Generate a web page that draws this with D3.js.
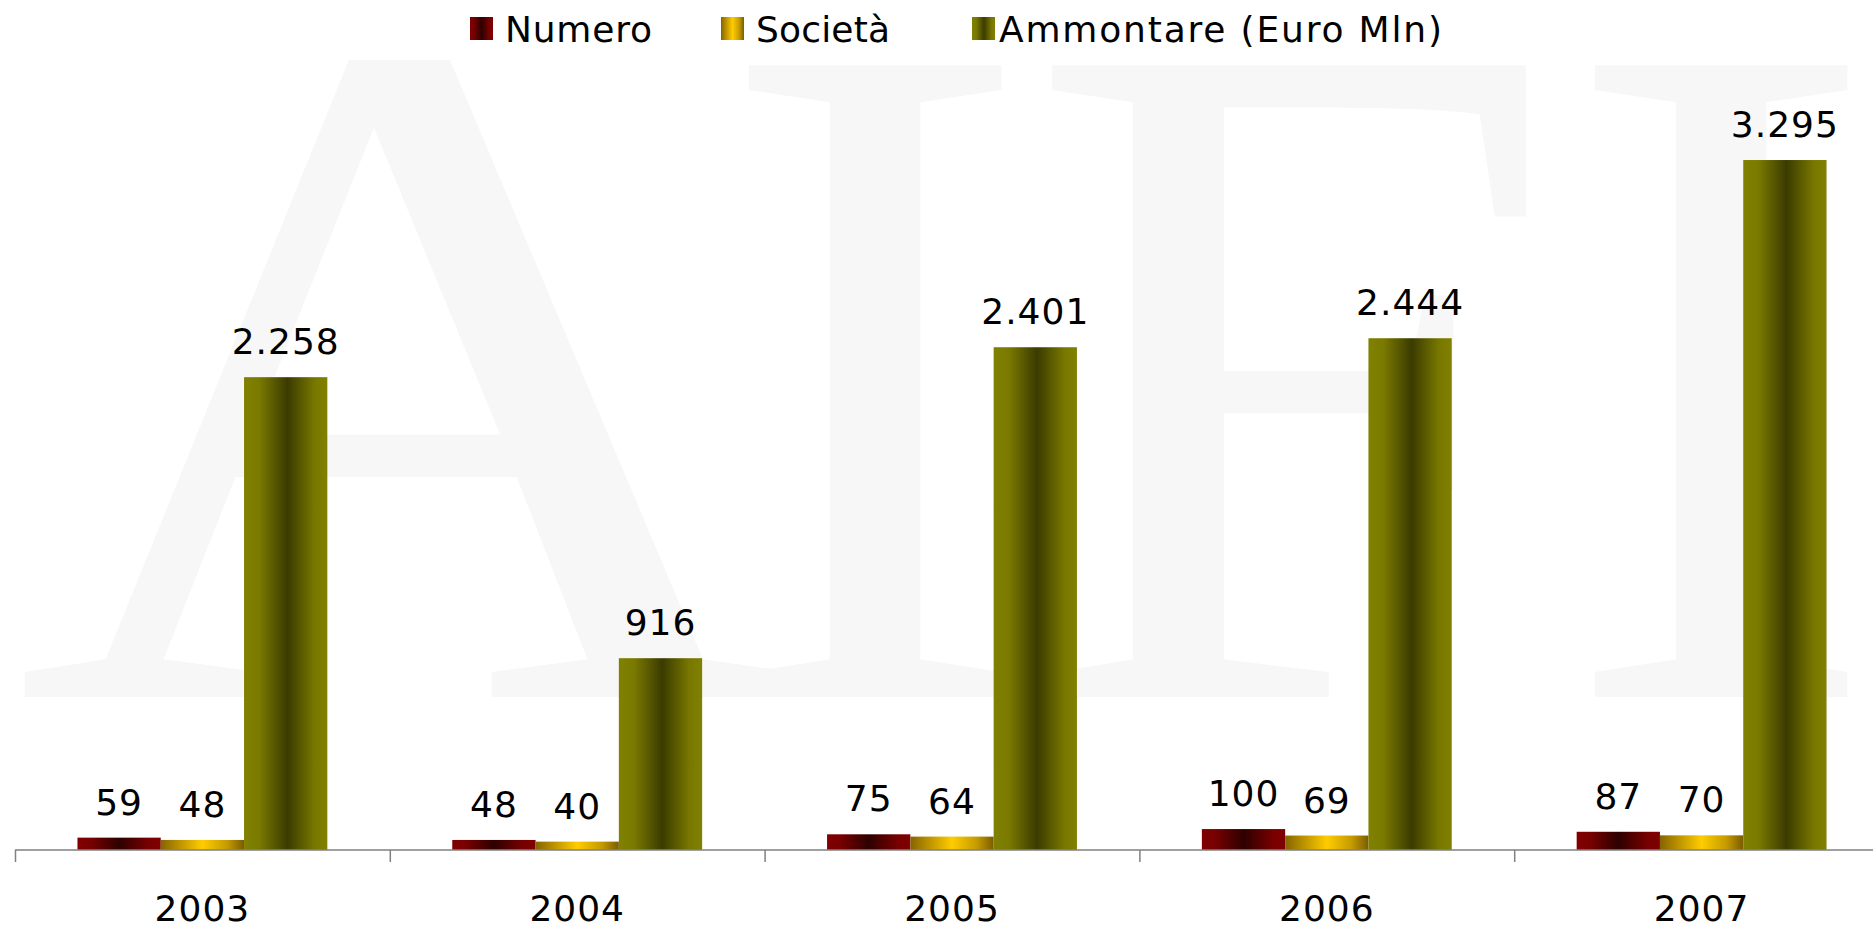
<!DOCTYPE html>
<html>
<head>
<meta charset="utf-8">
<script src="https://cdn.jsdelivr.net/npm/d3@7/dist/d3.min.js"></script>
<style>
  html, body { margin: 0; padding: 0; background: #ffffff; overflow: hidden; }
  svg { display: block; }
</style>
</head>
<body>
<svg id="chart" width="1873" height="926"></svg>
<script>
// ---- Data ----
const years = ["2003", "2004", "2005", "2006", "2007"];
const seriesNames = ["Numero", "Società", "Ammontare (Euro Mln)"];
const numero = [59, 48, 75, 100, 87];
const societa = [48, 40, 64, 69, 70];
const ammontare = [2258, 916, 2401, 2444, 3295];
const watermarkLetters = ["A", "I", "F", "I"];

const seriesValues = [numero, societa, ammontare];

// ---- Setup ----
const W = 1873, H = 926;
const svg = d3.select("#chart");
const it = d3.formatLocale({ decimal: ",", thousands: ".", grouping: [3], currency: ["€", ""] });
const fmt = it.format(",d");
const FONT = "'DejaVu Sans', Verdana, sans-serif";

// Watermark (decorative)
const wmX = [14, 714, 1024, 1560];
const wmScale = [1.13, 1, 1, 1];
svg.append("g").selectAll("text").data(watermarkLetters).join("text")
  .attr("x", (d, i) => wmX[i])
  .attr("y", 697)
  .attr("transform", (d, i) => `translate(${wmX[i]},0) scale(${wmScale[i]},1) translate(${-wmX[i]},0)`)
  .style("font-family", "'Liberation Serif', Tinos, 'Times New Roman', Times, serif")
  .attr("font-size", 965)
  .attr("fill", "#f7f7f7")
  .text(d => d);

// Gradients
const defs = svg.append("defs");
const gradStops = [
  [[0, "#800000"], [0.15, "#7a0000"], [0.5, "#2e0000"], [0.85, "#780000"], [1, "#800000"]],
  [[0, "#866400"], [0.5, "#ffcc00"], [0.8, "#c49a00"], [1, "#7a5c00"]],
  [[0, "#808000"], [0.18, "#7a7a00"], [0.52, "#3b3b00"], [0.85, "#787800"], [1, "#808000"]]
];
gradStops.forEach((stops, i) => {
  const g = defs.append("linearGradient").attr("id", "grad" + i)
    .attr("x1", "0%").attr("x2", "100%").attr("y1", "0%").attr("y2", "0%");
  stops.forEach(s => g.append("stop").attr("offset", s[0]).attr("stop-color", s[1]));
});

// Scales
const baseY = 850;
const x0 = d3.scaleBand().domain(years).range([15, 15 + 5 * 374.8]).paddingInner(0).paddingOuter(0);
const x1 = d3.scaleBand().domain(d3.range(seriesNames.length)).range([0, x0.bandwidth()])
  .paddingInner(0).paddingOuter(0.75);
const y = d3.scaleLinear().domain([0, 3500]).range([baseY, baseY - 3500 * 0.2094]);

// Bars
const groups = svg.append("g").selectAll("g").data(years).join("g")
  .attr("transform", d => `translate(${x0(d)},0)`);

groups.selectAll("rect")
  .data((d, yi) => seriesValues.map((arr, si) => ({ si, v: arr[yi] })))
  .join("rect")
  .attr("x", d => x1(d.si))
  .attr("width", x1.bandwidth())
  .attr("y", d => y(d.v))
  .attr("height", d => baseY - y(d.v))
  .attr("fill", d => `url(#grad${d.si})`);

// Value labels
groups.selectAll("text.val")
  .data((d, yi) => seriesValues.map((arr, si) => ({ si, v: arr[yi] })))
  .join("text")
  .attr("class", "val")
  .attr("x", d => x1(d.si) + x1.bandwidth() / 2)
  .attr("y", d => y(d.v) - 23)
  .attr("text-anchor", "middle")
  .attr("font-family", FONT)
  .attr("font-size", 36)
  .attr("letter-spacing", 1)
  .attr("fill", "#000")
  .text(d => fmt(d.v));

// X axis
const axis = d3.axisBottom(x0).tickSize(0).tickPadding(0);
const axG = svg.append("g").attr("transform", `translate(0,${baseY})`).call(axis);
axG.select(".domain").attr("stroke", "#808080").attr("stroke-width", 1.5)
  .attr("d", `M15,0H${W}`);
axG.selectAll(".tick text")
  .attr("y", 71)
  .attr("dy", 0)
  .attr("font-family", FONT)
  .attr("font-size", 36)
  .attr("letter-spacing", 1)
  .attr("fill", "#000");
// boundary ticks
axG.append("g").selectAll("line").data(years).join("line")
  .attr("x1", d => x0(d) + 0.5).attr("x2", d => x0(d) + 0.5)
  .attr("y1", 0).attr("y2", 12)
  .attr("stroke", "#808080").attr("stroke-width", 1.5);

// Legend
const legendTextLen = [147, 134, 443];
const legendTextOff = [35, 35, 27];
const legend = svg.append("g").attr("transform", "translate(470,0)");
const li = legend.selectAll("g").data(seriesNames).join("g")
  .attr("transform", (d, i) => `translate(${i * 251},0)`);
li.append("rect").attr("x", 0).attr("y", 17).attr("width", 23).attr("height", 23)
  .attr("fill", (d, i) => `url(#grad${i})`);
li.append("text").attr("x", (d, i) => legendTextOff[i]).attr("y", 42)
  .attr("font-family", FONT)
  .attr("font-size", 36)
  .attr("textLength", (d, i) => legendTextLen[i])
  .attr("lengthAdjust", "spacing")
  .attr("fill", "#000")
  .text(d => d);
</script>
</body>
</html>
